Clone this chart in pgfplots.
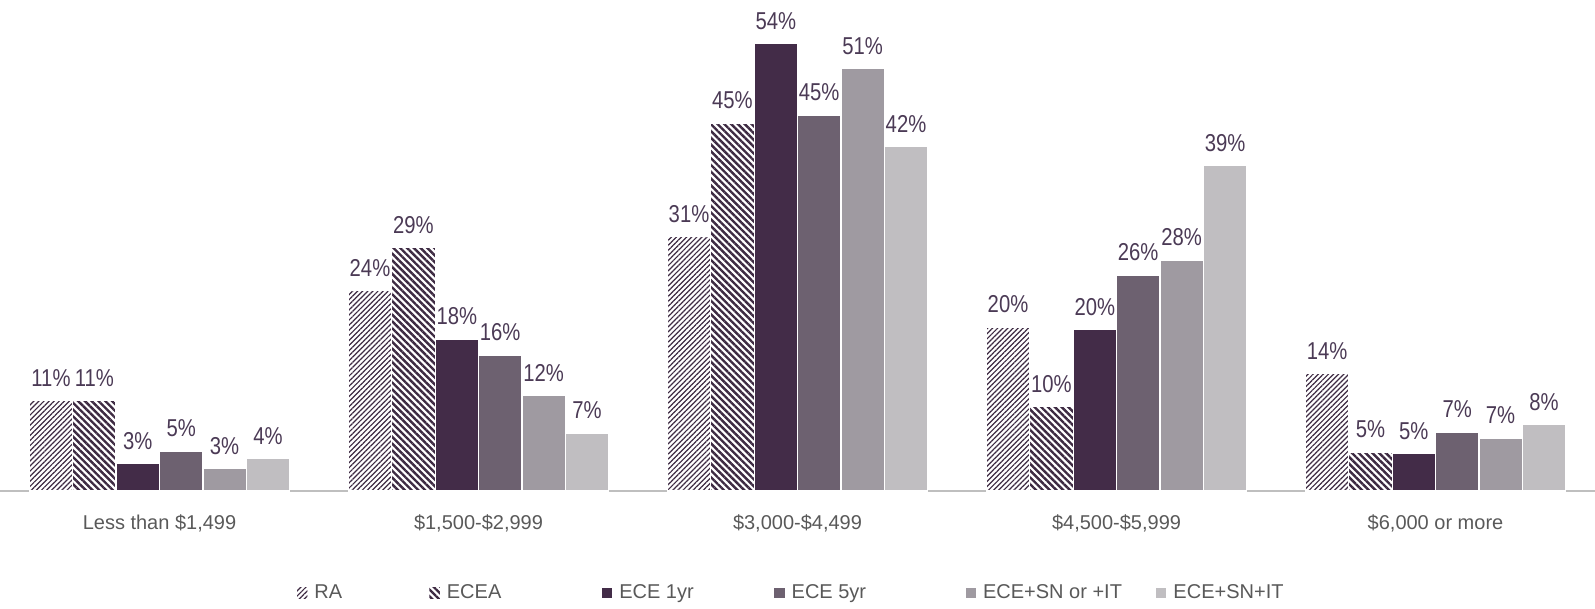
\documentclass[border=0pt]{standalone}
\usepackage{pgfplots}
\pgfplotsset{compat=1.18}
\usetikzlibrary{patterns.meta}
\usepackage{fontspec}
\setmainfont{Liberation Sans}
\newfontfamily\narrow{Liberation Sans}[FakeStretch=0.83]

\definecolor{labelc}{HTML}{4B3A55}
\definecolor{tickc}{HTML}{595959}
\definecolor{hatchc}{HTML}{3D2A42}
\definecolor{cA}{HTML}{432C48}
\definecolor{cB}{HTML}{6D6170}
\definecolor{cC}{HTML}{9F9AA1}
\definecolor{cD}{HTML}{C0BEC1}

\begin{document}
\begin{tikzpicture}
\begin{axis}[
  name=ax,
  scale only axis,
  width=797.5pt, height=245.5pt,
  ybar=0pt, bar width=21.7pt,
  xmin=-0.5, xmax=4.5, ymin=0, ymax=59.3,
  axis y line=none,
  axis x line*=bottom,
  x axis line style={draw=black!25, line width=0.8pt},
  xtick={0,1,2,3,4},
  xticklabels={Less than \$1{,}499, \$1{,}500-\$2{,}999, \$3{,}000-\$4{,}499, \$4{,}500-\$5{,}999, \$6{,}000 or more},
  major tick length=0pt,
  xticklabel style={font=\fontsize{10}{12}\selectfont, text=tickc, yshift=-8.5pt},
  clip=false,
  nodes near coords,
  point meta=explicit symbolic,
  every node near coord/.append style={font=\narrow\fontsize{12.2}{14}\selectfont, text=labelc, yshift=3.5pt},
  every axis plot/.append style={draw=white, line width=0.6pt},
  legend image code/.code={\fill[#1, draw=none] (0pt,-2.6pt) rectangle (5.2pt,2.6pt);},
  legend style={at={(0.186,-0.208)}, anchor=west, draw=none, legend columns=-1,
    font=\fontsize{10}{12}\selectfont, text=tickc, inner sep=0pt,
    /tikz/every odd column/.append style={column sep=1.5pt},
    /tikz/every even column/.append style={column sep=0pt}},
]
\addplot[pattern={Lines[angle=45,distance=1.8pt,line width=0.6pt]}, pattern color=hatchc] coordinates {
  (0,10.9) [11\%] (1,24.2) [24\%] (2,30.7) [31\%] (3,19.8) [20\%] (4,14.2) [14\%]
};
\addlegendentry{\makebox[55.5pt][l]{RA}}
\addplot[pattern={Lines[angle=-45,distance=2.4pt,line width=1.2pt]}, pattern color=hatchc] coordinates {
  (0,10.9) [11\%] (1,29.4) [29\%] (2,44.4) [45\%] (3,10.2) [10\%] (4,4.7) [5\%]
};
\addlegendentry{\makebox[75.5pt][l]{ECEA}}
\addplot[fill=cA] coordinates {
  (0,3.3) [3\%] (1,18.3) [18\%] (2,54.0) [54\%] (3,19.5) [20\%] (4,4.5) [5\%]
};
\addlegendentry{\makebox[75.5pt][l]{ECE 1yr}}
\addplot[fill=cB] coordinates {
  (0,4.8) [5\%] (1,16.4) [16\%] (2,45.4) [45\%] (3,26.1) [26\%] (4,7.1) [7\%]
};
\addlegendentry{\makebox[85pt][l]{ECE 5yr}}
\addplot[fill=cC] coordinates {
  (0,2.7) [3\%] (1,11.5) [12\%] (2,51.0) [51\%] (3,27.9) [28\%] (4,6.4) [7\%]
};
\addlegendentry{\makebox[84.5pt][l]{ECE+SN or +IT}}
\addplot[fill=cD] coordinates {
  (0,3.9) [4\%] (1,7.0) [7\%] (2,41.6) [42\%] (3,39.3) [39\%] (4,8.0) [8\%]
};
\addlegendentry{ECE+SN+IT}
\end{axis}
\pgfresetboundingbox
\useasboundingbox ([yshift=-58.5pt]ax.south west) rectangle (ax.north east);
\end{tikzpicture}
\end{document}
